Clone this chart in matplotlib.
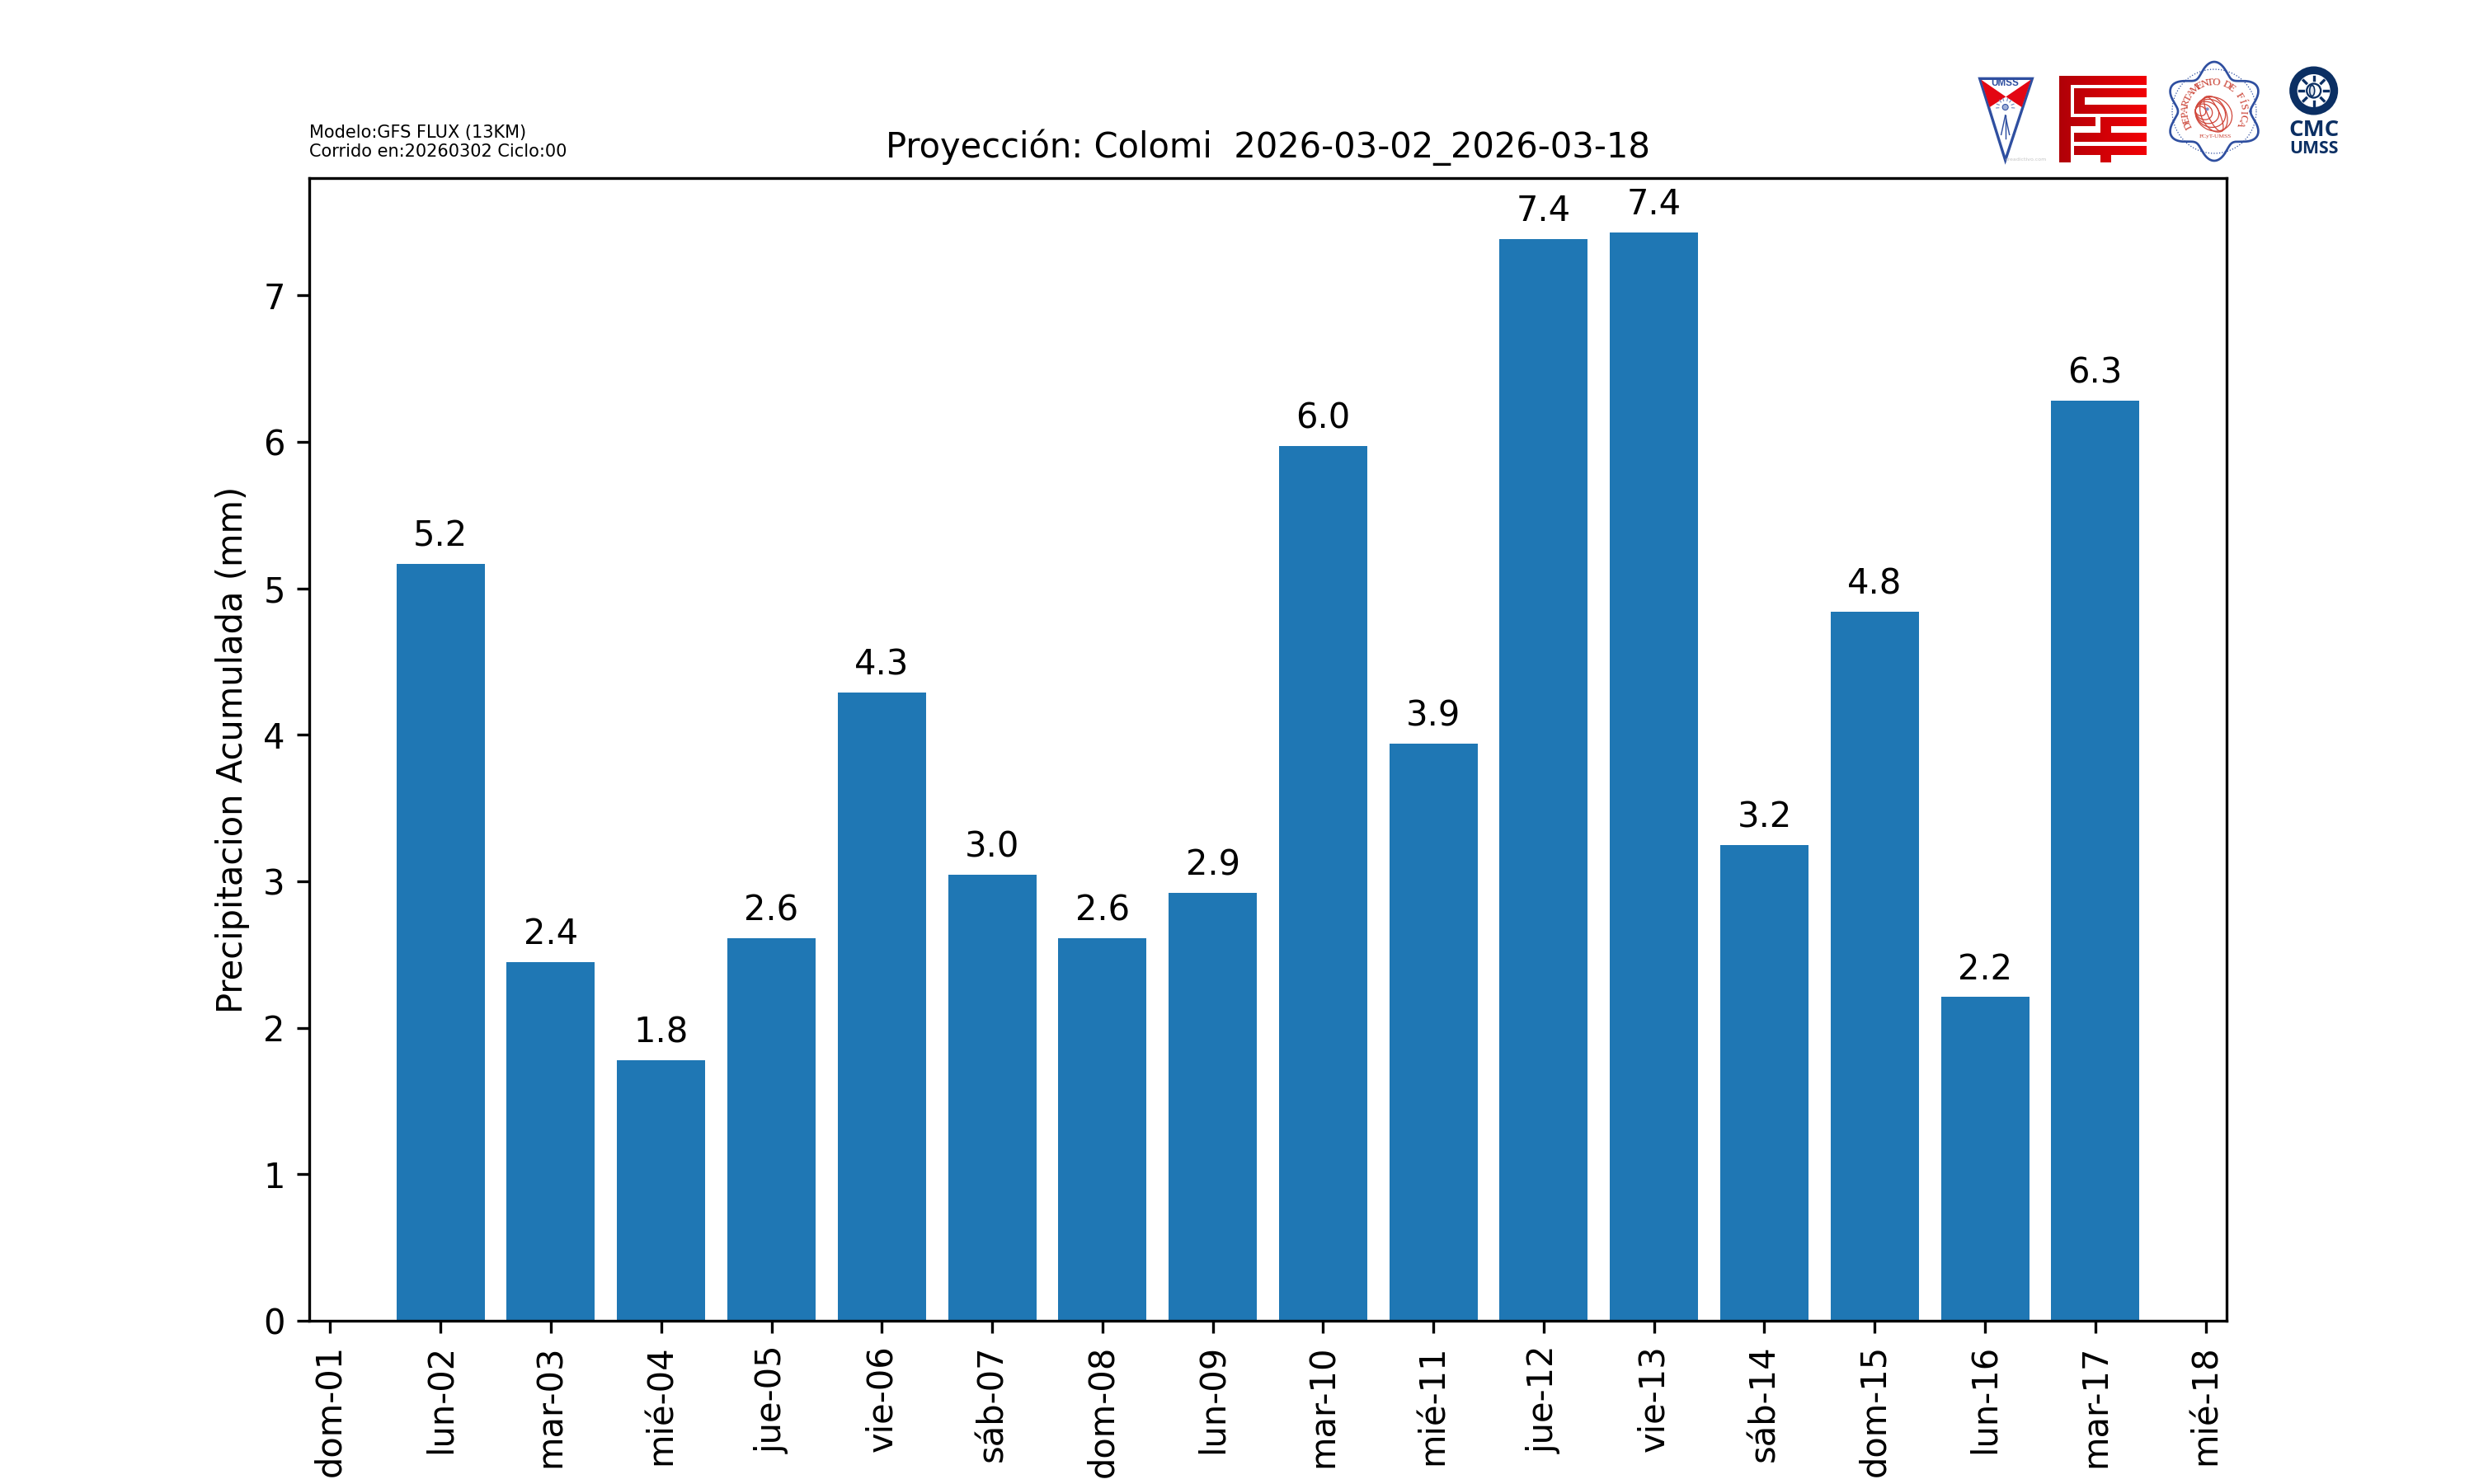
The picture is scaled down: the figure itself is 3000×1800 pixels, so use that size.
"""Precipitacion acumulada diaria - Colomi"""
import numpy as np
import matplotlib
matplotlib.use("Agg")
import matplotlib.pyplot as plt
from matplotlib.colors import LinearSegmentedColormap
from matplotlib.path import Path
from matplotlib.patches import Polygon, Circle, Ellipse, PathPatch

day_numbers = [2, 3, 4, 5, 6, 7, 8, 9, 10, 11, 12, 13, 14, 15, 16, 17]
precip_mm = [5.17, 2.449, 1.78, 2.61, 4.29, 3.045, 2.61, 2.92,
             5.97, 3.94, 7.385, 7.43, 3.25, 4.84, 2.21, 6.28]
tick_days = list(range(1, 19))
tick_labels = ["dom-01", "lun-02", "mar-03", "mié-04", "jue-05", "vie-06",
               "sáb-07", "dom-08", "lun-09", "mar-10", "mié-11", "jue-12",
               "vie-13", "sáb-14", "dom-15", "lun-16", "mar-17", "mié-18"]

NAVY = "#0b2f63"
BLUE = "#2f4fa0"
RED = "#e30613"
GLOBE = "#d0463a"


def crop(x0, y0):
    # coordenadas de un recorte ampliado 3x -> pixeles de la figura
    return lambda x, y: (x0 + x / 3, y0 + y / 3)


def logo_umss(lg):
    z = crop(2400, 85)
    lg.add_patch(Polygon([z(2, 31), z(193, 31), z(95, 328)], fc="white", ec=BLUE, lw=0.8))
    lg.add_patch(Polygon([z(7, 35), z(97, 97), z(38, 135)], fc=RED, ec="none"))
    lg.add_patch(Polygon([z(188, 35), z(97, 97), z(155, 135)], fc=RED, ec="none"))
    lg.text(*z(94, 48), "UMSS", color=BLUE, fontsize=2.8, fontweight="bold",
            family="Liberation Sans", ha="center", va="center")
    # emblema
    cx, cy = z(95, 135)
    for a in np.radians([20, 50, 75, 105, 130, 160, 185, -5]):
        lg.plot([cx + 8 * np.cos(a), cx + 11 * np.cos(a)],
                [cy - 8 * np.sin(a), cy - 11 * np.sin(a)], color="#7f95c8", lw=0.3)
    lg.add_patch(Circle((cx, cy), 3.5, fc="#9fb0d8", ec=BLUE, lw=0.25))
    for tip in [(80, 235), (95, 250), (110, 235)]:
        lg.plot(*zip(z(95, 165), z(*tip)), color=BLUE, lw=0.35)
    lg.text(*z(170, 325), "creadictivo.com", color="#c4c4c4", fontsize=1.5,
            ha="center", va="center")


def logo_fcyt(lg):
    z = crop(2490, 80)
    rects = [(20, 35, 338, 70), (20, 35, 62, 350), (20, 185, 152, 220),
             (75, 80, 338, 115), (75, 80, 115, 175), (75, 140, 338, 175),
             (170, 185, 338, 220), (170, 185, 210, 243), (75, 243, 338, 277),
             (75, 290, 338, 323), (170, 290, 210, 350)]
    verts = [Path([z(a, b), z(c, b), z(c, d), z(a, d), z(a, b)], closed=True)
             for a, b, c, d in rects]
    path = Path.make_compound_path(*verts)
    x0, y0 = z(20, 35)
    x1, y1 = z(338, 350)
    cmap = LinearSegmentedColormap.from_list("fcyt", ["#b00008", "#f20005"])
    im = lg.imshow(np.linspace(0, 1, 64).reshape(1, -1), cmap=cmap, aspect="auto",
                   extent=(x0, x1, y1, y0), interpolation="bilinear")
    im.set_clip_path(PathPatch(path, transform=lg.transData))


def logo_fisica(lg):
    z = crop(2625, 70)
    cx, cy = z(180, 195)
    th = np.linspace(0, 2 * np.pi, 400)
    r = 52 + 8 * np.cos(6 * (th + np.pi / 2))
    lg.plot(cx + r * np.cos(th), cy + r * np.sin(th), color=BLUE, lw=0.65)
    lg.plot(cx + 51 * np.cos(th), cy + 51 * np.sin(th), color=BLUE, lw=0.3, ls=":")
    text = "DEPARTAMENTO DE FÍSICA"
    angles = np.linspace(208, -24, len(text))
    for ch, a in zip(text, angles):
        rad = np.radians(a)
        lg.text(cx + 35 * np.cos(rad), cy - 35 * np.sin(rad), ch, color="#c8392b",
                fontsize=3.1, family="Liberation Serif", rotation=a - 90,
                rotation_mode="anchor", ha="center", va="center")
    lg.text(*z(185, 285), "FCyT-UMSS", color="#c8392b", fontsize=1.8,
            family="Liberation Serif", ha="center", va="center")
    # globo: elipses que convergen en el borde izquierdo
    gx, gy = z(178, 205)
    ox, oy = z(112, 190)
    for t in [1.0, 0.82, 0.64, 0.46, 0.28]:
        lg.add_patch(Ellipse((ox + (gx - ox) * t, oy + (gy - oy) * t), 46 * t, 40 * t,
                             angle=30, fc="none", ec=GLOBE, lw=0.3))
    for w in [30, 14]:
        lg.add_patch(Ellipse((gx, gy), w, 46, angle=-25, fc="none", ec=GLOBE, lw=0.3))
    lg.add_patch(Circle(z(155, 187), 2.0, fc="#8090c8", ec="none"))


def logo_cmc(lg):
    z = crop(2400, 60)
    cx, cy = z(1217, 150)
    lg.add_patch(Circle((cx, cy), 29.5, fc=NAVY, ec="none"))
    lg.add_patch(Circle((cx, cy), 20, fc="white", ec="none"))
    for a in np.radians(np.arange(0, 360, 45)):
        lg.plot([cx + 12.7 * np.cos(a), cx + 17.5 * np.cos(a)],
                [cy + 12.7 * np.sin(a), cy + 17.5 * np.sin(a)], color=NAVY, lw=0.8)
    lg.add_patch(Circle((cx, cy), 8.5, fc="white", ec=NAVY, lw=0.55))
    lg.add_patch(Ellipse((cx - 2, cy), 6, 13, fc="#dfe5ee", ec=NAVY, lw=0.4))
    lg.text(*z(1217, 295), "CMC", color=NAVY, fontsize=6.6, fontweight="bold",
            family="Open Sans", ha="center", va="center")
    lg.text(*z(1217, 360), "UMSS", color=NAVY, fontsize=5.1, fontweight="bold",
            family="Open Sans", ha="center", va="center")


fig, ax = plt.subplots(figsize=(10, 6), dpi=300)
bars = ax.bar(day_numbers, precip_mm, width=0.8, color="#1f77b4")
ax.bar_label(bars, fmt="%.1f", padding=3)

ax.set_xticks(tick_days)
ax.set_xticklabels(tick_labels, rotation=90)
ax.set_ylabel("Precipitacion Acumulada (mm)")
ax.set_title("Proyección: Colomi  2026-03-02_2026-03-18", fontsize=10)
fig.text(0.125, 0.892, "Modelo:GFS FLUX (13KM)\nCorrido en:20260302 Ciclo:00",
         fontsize=5, ha="left", va="bottom", linespacing=1.2)

# logos, capa en pixeles sobre la figura
lg = fig.add_axes([0, 0, 1, 1], zorder=5)
logo_umss(lg)
logo_fcyt(lg)
logo_fisica(lg)
logo_cmc(lg)
lg.set_xlim(0, 3000)
lg.set_ylim(1800, 0)
lg.axis("off")

fig.savefig("out.png", dpi=300)
plt.close(fig)
